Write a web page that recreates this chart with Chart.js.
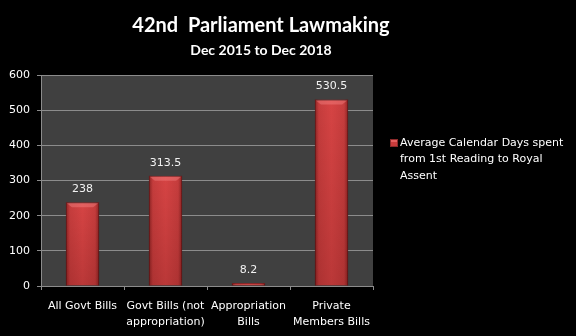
<!DOCTYPE html>
<html>
<head>
<meta charset="utf-8">
<script src="https://cdn.jsdelivr.net/npm/chart.js@4/dist/chart.umd.min.js"></script>
<style>
  html, body { margin: 0; padding: 0; background: #000; }
  #wrap { width: 576px; height: 336px; }
</style>
</head>
<body>
<div id="wrap"><canvas id="grafico"></canvas></div>
<script>
const titulo = '42nd  Parliament Lawmaking';
const subtitulo = 'Dec 2015 to Dec 2018';
const categorias = [
    ['All Govt Bills'],
    ['Govt Bills (not', 'appropriation)'],
    ['Appropriation', 'Bills'],
    ['Private', 'Members Bills']
];
const serieNome = 'Average Calendar Days spent from 1st Reading to Royal Assent';
const mediaDias = [238, 313.5, 8.2, 530.5];
const eixoY = { min: 0, max: 600, passo: 100 };

const FONTE = 'DejaVu Sans';

/* fundo da área do gráfico */
const fundoPlot = {
    id: 'fundoPlot',
    beforeDraw(chart) {
        const { ctx, chartArea: a } = chart;
        ctx.save();
        ctx.fillStyle = '#404040';
        ctx.fillRect(a.left, a.top, a.right - a.left, a.bottom - a.top);
        ctx.restore();
    }
};

/* relevo das barras: bordas escuras e chanfro claro no topo */
const relevo = {
    id: 'relevo',
    afterDatasetsDraw(chart) {
        const { ctx } = chart;
        const meta = chart.getDatasetMeta(0);
        ctx.save();
        meta.data.forEach(bar => {
            const x0 = bar.x - bar.width / 2, x1 = bar.x + bar.width / 2;
            const y0 = bar.y, y1 = bar.base;
            const h = y1 - y0;
            const g = ctx.createLinearGradient(x0, 0, x1, 0);
            g.addColorStop(0, 'rgba(80,10,10,0.55)');
            g.addColorStop(0.12, 'rgba(80,10,10,0.12)');
            g.addColorStop(0.5, 'rgba(80,10,10,0)');
            g.addColorStop(0.88, 'rgba(80,10,10,0.12)');
            g.addColorStop(1, 'rgba(80,10,10,0.55)');
            ctx.fillStyle = g;
            ctx.fillRect(x0, y0, x1 - x0, h);
            // escurece levemente para baixo
            const gv = ctx.createLinearGradient(0, y0, 0, y1);
            gv.addColorStop(0, 'rgba(60,0,0,0)');
            gv.addColorStop(1, 'rgba(60,0,0,0.18)');
            ctx.fillStyle = gv;
            ctx.fillRect(x0, y0, x1 - x0, h);
            // chanfro superior
            const b = Math.min(5, h / 2);
            if (b > 1) {
                ctx.fillStyle = 'rgba(255,150,150,0.35)';
                ctx.beginPath();
                ctx.moveTo(x0 + 1, y0 + 1);
                ctx.lineTo(x1 - 1, y0 + 1);
                ctx.lineTo(x1 - 1 - b, y0 + b);
                ctx.lineTo(x0 + 1 + b, y0 + b);
                ctx.closePath();
                ctx.fill();
            }
        });
        ctx.restore();
    }
};

/* títulos, rótulos de valor e legenda */
const extras = {
    id: 'extras',
    afterDraw(chart) {
        const { ctx, chartArea: a } = chart;
        ctx.save();

        // títulos
        const cx = 261;
        ctx.fillStyle = '#ffffff';
        ctx.textAlign = 'center';
        ctx.textBaseline = 'middle';
        ctx.font = 'bold 20px Lato';
        ctx.fillText(titulo, cx, 26);
        ctx.font = 'bold 14px Lato';
        ctx.fillText(subtitulo, cx, 50);

        // valores acima das barras
        ctx.font = '11px "' + FONTE + '"';
        ctx.fillStyle = '#f2f2f2';
        const meta = chart.getDatasetMeta(0);
        meta.data.forEach((bar, i) => {
            ctx.fillText(String(mediaDias[i]), bar.x, bar.y - 13);
        });

        // legenda
        const lx = a.right + 17, ly = a.top + 64;
        ctx.fillStyle = '#c93c3c';
        ctx.fillRect(lx, ly, 8, 8);
        ctx.fillStyle = '#e46060';
        ctx.fillRect(lx + 1, ly + 1, 6, 2);
        ctx.strokeStyle = '#8b2a2a';
        ctx.lineWidth = 1;
        ctx.strokeRect(lx + 0.5, ly + 0.5, 7, 7);

        ctx.fillStyle = '#ffffff';
        ctx.textAlign = 'left';
        const palavras = serieNome.split(' ');
        const linhas = [];
        let atual = '';
        palavras.forEach(p => {
            const teste = atual ? atual + ' ' + p : p;
            if (ctx.measureText(teste).width > 165 && atual) {
                linhas.push(atual);
                atual = p;
            } else {
                atual = teste;
            }
        });
        if (atual) linhas.push(atual);
        linhas.forEach((l, i) => ctx.fillText(l, lx + 10, ly + 4 + i * 16.5));

        ctx.restore();
    }
};

new Chart(document.getElementById('grafico'), {
    type: 'bar',
    data: {
        labels: categorias,
        datasets: [{
            label: serieNome,
            data: mediaDias,
            backgroundColor: '#d64444',
            borderColor: '#8b2a2a',
            borderWidth: 1,
            barPercentage: 0.4,
            categoryPercentage: 1
        }]
    },
    options: {
        responsive: true,
        maintainAspectRatio: false,
        animation: false,
        layout: { padding: { top: 75, right: 203, left: 0, bottom: 0 } },
        plugins: {
            legend: { display: false },
            title: { display: false },
            tooltip: { enabled: false }
        },
        scales: {
            x: {
                offset: true,
                grid: {
                    offset: true,
                    drawOnChartArea: false,
                    drawTicks: true,
                    tickLength: 4,
                    color: '#8c8c8c'
                },
                border: { color: '#8c8c8c' },
                ticks: {
                    color: '#ffffff',
                    font: { family: FONTE, size: 11, lineHeight: 1.45 },
                    padding: 8,
                    maxRotation: 0,
                    autoSkip: false
                },
                afterFit(s) { s.height = 50; }
            },
            y: {
                min: eixoY.min,
                max: eixoY.max,
                grid: { color: '#8c8c8c', tickLength: 4 },
                border: { color: '#8c8c8c' },
                ticks: {
                    stepSize: eixoY.passo,
                    color: '#ffffff',
                    font: { family: FONTE, size: 11 },
                    padding: 7
                },
                afterFit(s) { s.width = 41; }
            }
        }
    },
    plugins: [fundoPlot, relevo, extras]
});
</script>
</body>
</html>
